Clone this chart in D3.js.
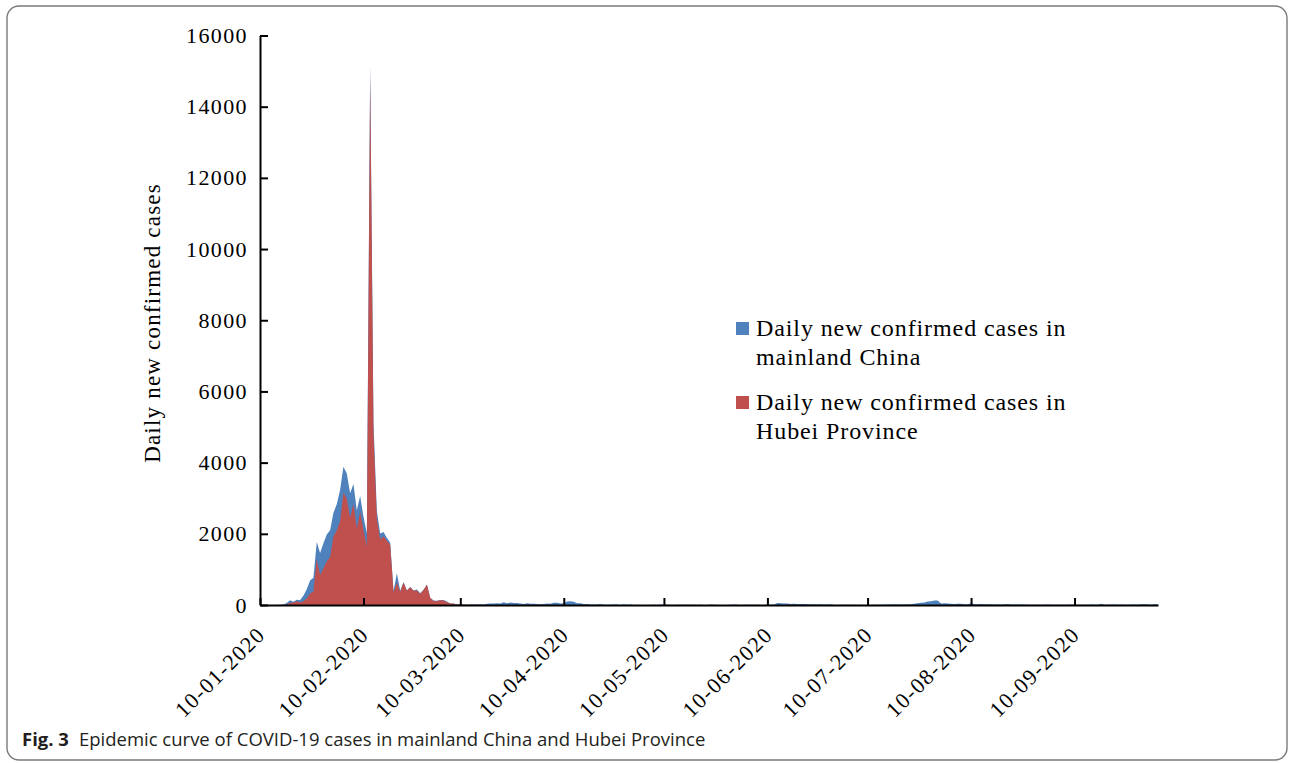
<!DOCTYPE html>
<html>
<head>
<meta charset="utf-8">
<script src="https://cdn.jsdelivr.net/npm/d3@7"></script>
<style>
  body { margin: 0; background: #fff; }
</style>
</head>
<body>
<div id="chart"></div>
<script>
// day-by-day values, first entry is 10-01-2020, last is 05-10-2020
const startDate = "10-01-2020"
const endDate = "05-10-2020"

const tickLabels = ["10-01-2020", "10-02-2020", "10-03-2020", "10-04-2020", "10-05-2020",
  "10-06-2020", "10-07-2020", "10-08-2020", "10-09-2020"]
const yTicks = [0, 2000, 4000, 6000, 8000, 10000, 12000, 14000, 16000]

const seriesNames = ["Daily new confirmed cases in mainland China", "Daily new confirmed cases in Hubei Province"]
const yTitle = "Daily new confirmed cases"
const captionLabel = "Fig. 3"
const captionText = "Epidemic curve of COVID-19 cases in mainland China and Hubei Province"

const chinaDaily = [
  // Jan 10-31
  0, 0, 0, 0, 0, 0, 4, 17, 59, 136, 93, 149, 131, 259, 444, 688, 769, 1771, 1459, 1737, 1982, 2102,
  // Feb
  2590, 2829, 3235, 3887, 3694, 3143, 3399, 2656, 3062, 2478, 2015, 15152, 5090, 2641, 2009, 2048, 1886, 1749, 394, 889,
  397, 648, 409, 508, 406, 433, 327, 427, 573,
  // Mar
  202, 125, 119, 139, 143, 99, 44, 40, 19, 24, 15, 8, 11, 20, 16, 21, 13, 34, 39, 41,
  46, 39, 78, 47, 67, 55, 54, 45, 31, 48, 36,
  // Apr
  35, 31, 19, 30, 39, 32, 62, 63, 42, 46, 99, 108, 89, 46, 46, 26, 27, 16, 12, 11,
  30, 10, 10, 6, 12, 11, 3, 22, 4, 12,
  // May
  1, 2, 3, 1, 2, 2, 4, 1, 14, 17, 1, 7, 3, 4, 5, 8, 7, 6, 5, 2,
  4, 3, 3, 11, 7, 1, 2, 2, 2, 4, 16,
  // Jun
  5, 1, 7, 5, 5, 6, 4, 3, 3, 11, 8, 11, 57, 49, 40, 44, 28, 32, 26, 29,
  26, 18, 22, 19, 13, 21, 17, 12, 19, 3,
  // Jul
  3, 5, 4, 6, 8, 7, 3, 7, 2, 7, 2, 8, 8, 6, 11, 13, 13, 22, 16, 11,
  14, 22, 21, 34, 46, 61, 68, 101, 105, 123, 127,
  // Aug
  45, 49, 43, 36, 27, 37, 32, 23, 23, 49, 22, 19, 25, 20, 22, 22, 16, 14, 17, 22,
  30, 17, 15, 15, 14, 15, 9, 9, 9, 6, 10,
  // Sep
  5, 11, 10, 10, 10, 10, 9, 6, 11, 7, 8, 10, 7, 10, 12, 10, 9, 32, 9, 8,
  12, 11, 10, 14, 10, 7, 15, 11, 10, 21,
  // Oct 1-5
  19, 15, 10, 20, 14
]

const hubeiDaily = [
  // Jan 10-31
  0, 0, 0, 0, 0, 0, 0, 4, 17, 59, 72, 105, 69, 105, 180, 323, 371, 1291, 840, 1032, 1220, 1347,
  // Feb
  1921, 2103, 2345, 3156, 2987, 2447, 2841, 2147, 2618, 2097, 1638, 14840, 4823, 2420, 1843, 1933, 1807, 1693, 349, 631,
  366, 630, 398, 499, 401, 409, 318, 423, 570,
  // Mar
  196, 114, 115, 134, 126, 74, 41, 36, 17, 13, 8, 5, 4, 4, 4, 1, 1, 0, 0, 0,
  0, 0, 0, 0, 0, 0, 0, 0, 0, 0, 0,
  // Apr
  0, 0, 0, 0, 0, 0, 0, 0, 0, 0, 0, 0, 0, 0, 0, 0, 0, 0, 0, 0,
  0, 0, 0, 0, 0, 0, 0, 0, 0, 0,
  // May
  0, 0, 0, 0, 0, 0, 0, 0, 0, 1, 5, 0, 0, 0, 0, 0, 0, 0, 0, 0,
  0, 0, 0, 0, 0, 0, 0, 0, 0, 0, 0,
  // Jun
  0, 0, 0, 0, 0, 0, 0, 0, 0, 0, 0, 0, 0, 0, 0, 0, 0, 0, 0, 0,
  0, 0, 0, 0, 0, 0, 0, 0, 0, 0,
  // Jul
  0, 0, 0, 0, 0, 0, 0, 0, 0, 0, 0, 0, 0, 0, 0, 0, 0, 0, 0, 0,
  0, 0, 0, 0, 0, 0, 0, 0, 0, 0, 0,
  // Aug
  0, 0, 0, 0, 0, 0, 0, 0, 0, 0, 0, 0, 0, 0, 0, 0, 0, 0, 0, 0,
  0, 0, 0, 0, 0, 0, 0, 0, 0, 0, 0,
  // Sep
  0, 0, 0, 0, 0, 0, 0, 0, 0, 0, 0, 0, 0, 0, 0, 0, 0, 0, 0, 0,
  0, 0, 0, 0, 0, 0, 0, 0, 0, 0,
  // Oct 1-5
  0, 0, 0, 0, 0
]

const colors = ["#4F81BD", "#C0504D"]
const serif = "'Liberation Serif', 'Times New Roman', serif"
const sans = "'Open Sans', 'Noto Sans', sans-serif"

const width = 1290
const height = 763
const margin = { top: 35.5, right: 132, bottom: 158, left: 260 }
const innerWidth = width - margin.left - margin.right
const innerHeight = height - margin.top - margin.bottom

const parseDate = d3.timeParse("%d-%m-%Y")
const start = parseDate(startDate)
const toRows = arr => arr.map((v, i) => ({ date: d3.timeDay.offset(start, i), value: v }))
const china = toRows(chinaDaily)
const hubei = toRows(hubeiDaily)

const svg = d3.select("#chart")
  .append("svg")
  .attr("width", width)
  .attr("height", height)
  .style("display", "block")

// figure frame
svg.append("rect")
  .attr("x", 7)
  .attr("y", 6)
  .attr("width", 1280)
  .attr("height", 754)
  .attr("rx", 12)
  .attr("fill", "none")
  .attr("stroke", "#7a7a7a")
  .attr("stroke-width", 1.4)

const g = svg.append("g")
  .attr("transform", "translate(" + margin.left + "," + margin.top + ")")

const x = d3.scaleTime()
  .domain([start, parseDate(endDate)])
  .range([0, innerWidth])

const y = d3.scaleLinear()
  .domain([0, 16000])
  .range([innerHeight, 0])

const area = d3.area()
  .x(d => x(d.date))
  .y0(y(0))
  .y1(d => y(d.value))

// blue first, red over it
g.append("path")
  .datum(china)
  .attr("d", area)
  .attr("fill", colors[0])

g.append("path")
  .datum(hubei)
  .attr("d", area)
  .attr("fill", colors[1])

// AXES
const yAxis = g.append("g")
  .call(d3.axisLeft(y).tickValues(yTicks).tickFormat(d3.format("d"))
    .tickSizeInner(-8).tickSizeOuter(0).tickPadding(12))
yAxis.select(".domain").attr("stroke", "#000").attr("stroke-width", 2)
yAxis.selectAll(".tick line").attr("stroke", "#000").attr("stroke-width", 2)
yAxis.selectAll("text")
  .style("font-family", serif)
  .style("font-size", "22px")
  .style("letter-spacing", "1.4px")
  .attr("fill", "#000")

const xAxis = g.append("g")
  .attr("transform", "translate(0," + innerHeight + ")")
  .call(d3.axisBottom(x).tickValues(tickLabels.map(parseDate)).tickSizeInner(-7).tickSizeOuter(0)
    .tickFormat((d, i) => tickLabels[i]))
xAxis.select(".domain").attr("stroke", "#000").attr("stroke-width", 2)
xAxis.selectAll(".tick line").attr("stroke", "#000").attr("stroke-width", 2)
xAxis.selectAll("text")
  .attr("y", null)
  .attr("dy", null)
  .attr("transform", "translate(6,31) rotate(-45)")
  .attr("text-anchor", "end")
  .style("font-family", serif)
  .style("font-size", "22px")
  .style("letter-spacing", "1.4px")
  .attr("fill", "#000")

// Y AXIS TITLE
g.append("text")
  .attr("transform", "rotate(-90)")
  .attr("x", -(323 - margin.top))
  .attr("y", 160 - margin.left)
  .attr("text-anchor", "middle")
  .style("font-family", serif)
  .style("font-size", "23px")
  .style("letter-spacing", "1.2px")
  .text(yTitle)

// LEGEND
const legendLines = [["Daily new confirmed cases in", "mainland China"], ["Daily new confirmed cases in", "Hubei Province"]]
const legend = svg.append("g").attr("transform", "translate(736,322)")
legendLines.forEach((lines, i) => {
  const item = legend.append("g").attr("transform", "translate(0," + (i * 74) + ")")
  item.append("rect")
    .attr("width", 13)
    .attr("height", 13)
    .attr("fill", colors[i])
  lines.forEach((t, j) => {
    item.append("text")
      .attr("x", 20)
      .attr("y", 14 + j * 29)
      .style("font-family", serif)
      .style("font-size", "24px")
      .style("letter-spacing", "0.9px")
      .text(t)
  })
})

// CAPTION
const cap = svg.append("text")
  .attr("x", 22)
  .attr("y", 746)
  .style("font-family", sans)
  .style("font-size", "18.5px")
  .attr("fill", "#231f20")
cap.append("tspan").style("font-weight", "700").text(captionLabel)
cap.append("tspan").attr("dx", 10).text(captionText)
</script>
</body>
</html>
